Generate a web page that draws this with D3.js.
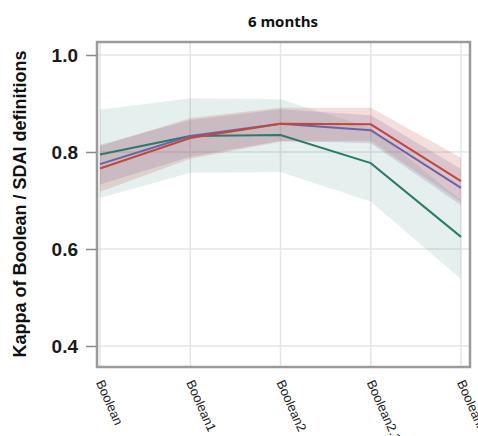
<!DOCTYPE html>
<html>
<head>
<meta charset="utf-8">
<script src="https://cdn.jsdelivr.net/npm/d3@7"></script>
<style>
  body { margin: 0; background: #fff; }
  svg { display: block; font-family: "Liberation Sans", Arial, sans-serif; }
</style>
</head>
<body>
<div id="chart"></div>
<script>
// data
var categories = ["Boolean", "Boolean1", "Boolean2", "Boolean2.1", "BooleanX"];
var yTicks = [0.4, 0.6, 0.8, 1.0];

var greenMean = [0.795, 0.833, 0.835, 0.777, 0.625];
var greenLow = [0.705, 0.757, 0.759, 0.698, 0.538];
var greenHigh = [0.887, 0.911, 0.909, 0.850, 0.700];

var purpleMean = [0.775, 0.833, 0.858, 0.845, 0.726];
var purpleLow = [0.733, 0.790, 0.823, 0.818, 0.690];
var purpleHigh = [0.815, 0.866, 0.888, 0.876, 0.765];

var redMean = [0.766, 0.829, 0.858, 0.857, 0.740];
var redLow = [0.718, 0.786, 0.821, 0.823, 0.697];
var redHigh = [0.812, 0.870, 0.891, 0.891, 0.788];

var svgWidth = 478;
var svgHeight = 436;

var frame = { left: 97, right: 470, top: 42, bottom: 367 };

var svg = d3.select("#chart")
  .append("svg")
  .attr("width", svgWidth)
  .attr("height", svgHeight);

var xScale = d3.scalePoint()
  .domain(categories)
  .range([100, 461]);

var yScale = d3.scaleLinear()
  .domain([0.4, 1.0])
  .range([346, 55]);

// gridlines
svg.append("g")
  .selectAll("line.h")
  .data(yTicks)
  .enter()
  .append("line")
  .attr("x1", frame.left)
  .attr("x2", frame.right)
  .attr("y1", d => yScale(d))
  .attr("y2", d => yScale(d))
  .attr("stroke", "#e4e4e4")
  .attr("stroke-width", 1.5);

svg.append("g")
  .selectAll("line.v")
  .data(categories)
  .enter()
  .append("line")
  .attr("x1", d => xScale(d))
  .attr("x2", d => xScale(d))
  .attr("y1", frame.top)
  .attr("y2", frame.bottom)
  .attr("stroke", "#e4e4e4")
  .attr("stroke-width", 1.5);

// bands then lines
var series = [
  { mean: greenMean, low: greenLow, high: greenHigh, line: "#2b7a6b", op: 0.12 },
  { mean: purpleMean, low: purpleLow, high: purpleHigh, line: "#6a63a6", op: 0.2 },
  { mean: redMean, low: redLow, high: redHigh, line: "#c0483e", op: 0.18 }
];

var area = d3.area()
  .x((d, i) => xScale(categories[i]))
  .y0(d => yScale(d[0]))
  .y1(d => yScale(d[1]));

var line = d3.line()
  .x((d, i) => xScale(categories[i]))
  .y(d => yScale(d));

series.forEach(s => {
  svg.append("path")
    .datum(s.low.map((v, i) => [v, s.high[i]]))
    .attr("d", area)
    .attr("fill", s.line)
    .attr("fill-opacity", s.op);
});

series.forEach(s => {
  svg.append("path")
    .datum(s.mean)
    .attr("d", line)
    .attr("fill", "none")
    .attr("stroke", s.line)
    .attr("stroke-width", 2);
});

// frame
svg.append("rect")
  .attr("x", frame.left)
  .attr("y", frame.top)
  .attr("width", frame.right - frame.left)
  .attr("height", frame.bottom - frame.top)
  .attr("fill", "none")
  .attr("stroke", "#9a9a9a")
  .attr("stroke-width", 2.5);

// y axis
var leftAxis = d3.axisLeft(yScale)
  .tickValues(yTicks)
  .tickFormat(d3.format(".1f"))
  .tickSize(10)
  .tickPadding(8);

var yAxisG = svg.append("g")
  .attr("transform", `translate(${frame.left - 1}, 0)`)
  .call(leftAxis);
yAxisG.select(".domain").remove();
yAxisG.selectAll("line").attr("stroke", "#8a8a8a").attr("stroke-width", 1.5);
yAxisG.selectAll("text")
  .attr("fill", "#1a1a1a")
  .style("font-size", "19px")
  .style("font-weight", "bold");

// x labels
svg.append("g")
  .selectAll("text")
  .data(categories)
  .enter()
  .append("text")
  .attr("transform", d => `translate(${xScale(d) - 3}, 382) rotate(66)`)
  .attr("text-anchor", "start")
  .attr("dy", "0.1em")
  .attr("fill", "#222")
  .style("font-size", "13px")
  .text(d => d);

// title
svg.append("text")
  .attr("x", 283)
  .attr("y", 27)
  .attr("text-anchor", "middle")
  .attr("fill", "#111")
  .style("font-size", "15px")
  .style("font-weight", "bold")
  .style("font-family", "'Open Sans', sans-serif")
  .text("6 months");

// y label
svg.append("text")
  .attr("transform", "translate(26, 204) rotate(-90)")
  .attr("text-anchor", "middle")
  .attr("fill", "#111")
  .style("font-size", "18px")
  .style("font-weight", "bold")
  .text("Kappa of Boolean / SDAI definitions");
</script>
</body>
</html>
